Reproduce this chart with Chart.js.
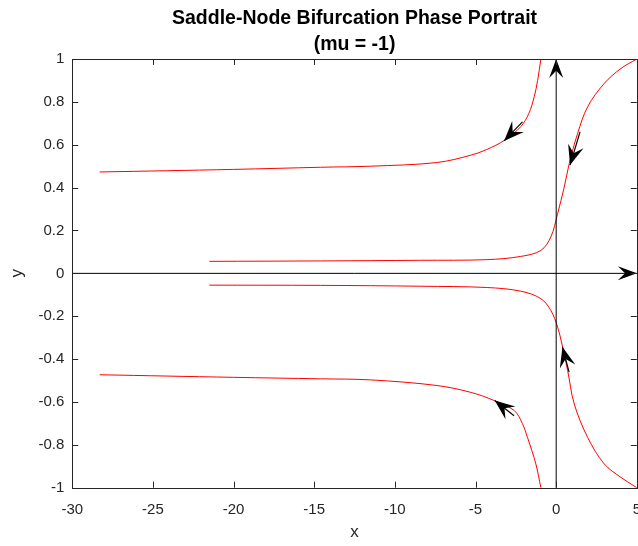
<!DOCTYPE html>
<html>
<head>
<meta charset="utf-8">
<title>Saddle-Node Bifurcation Phase Portrait</title>
<script src="https://cdn.jsdelivr.net/npm/chart.js@4.4.1/dist/chart.umd.min.js"></script>
<style>
  html, body { margin: 0; padding: 0; background: #fff; overflow: hidden; }
  #wrap { position: absolute; left: 0; top: 0; width: 654px; height: 546px; }
</style>
</head>
<body>
<div id="wrap"><canvas id="phaseChart" width="654" height="546"></canvas></div>
<script>
// trajectories (x, y pairs)
const upperLeftX = [-28.3, -20, -14.6, -11.5, -7.4, -5.3, -4.3, -3.2, -2.2, -1.7, -1.36, -1.15, -0.95];
const upperLeftY = [0.473, 0.485, 0.495, 0.500, 0.517, 0.551, 0.578, 0.621, 0.684, 0.745, 0.824, 0.900, 1.0];

const upperRightX = [-21.5, -14.6, -8.4, -4.3, -2.2, -0.95, -0.33, 0.09, 0.5, 0.81, 1.33, 1.95, 2.98, 4.02, 5.0];
const upperRightY = [0.056, 0.058, 0.061, 0.064, 0.079, 0.107, 0.170, 0.279, 0.403, 0.512, 0.653, 0.777, 0.886, 0.956, 1.0];

const lowerRightX = [-21.5, -14.6, -8.4, -4.3, -2.2, -0.95, -0.33, 0.09, 0.4, 0.71, 1.12, 1.95, 2.98, 4.02, 5.0];
const lowerRightY = [-0.055, -0.056, -0.060, -0.066, -0.083, -0.118, -0.173, -0.251, -0.344, -0.453, -0.609, -0.765, -0.889, -0.952, -1.0];

const lowerLeftX = [-28.3, -20, -14.6, -11.5, -7.4, -5.3, -3.85, -2.6, -2.1, -1.78, -1.26, -0.95];
const lowerLeftY = [-0.473, -0.485, -0.492, -0.497, -0.523, -0.555, -0.593, -0.640, -0.700, -0.765, -0.889, -1.0];

// direction arrows: tail -> tip
const arrowTailX = [-2.09, 1.48, 0.80, -2.61];
const arrowTailY = [0.707, 0.660, -0.461, -0.664];
const arrowTipX = [-3.23, 0.86, 0.39, -3.81];
const arrowTipY = [0.618, 0.505, -0.344, -0.593];

// axis lines through the origin
const axisLineX = [[-30, 5], [0, 0]];
const axisLineY = [[0, 0], [-1, 1]];

const xTicks = [-30, -25, -20, -15, -10, -5, 0, 5];
const yTicks = [-1, -0.8, -0.6, -0.4, -0.2, 0, 0.2, 0.4, 0.6, 0.8, 1];

const titleLines = ['Saddle-Node Bifurcation Phase Portrait', '(mu = -1)'];

function toPoints(xs, ys) {
    return xs.map((x, i) => ({ x: x, y: ys[i] }));
}

const axisColor = '#262626';
const fontFamily = 'Liberation Sans, Arial, sans-serif';

function drawHead(ctx, x0, y0, x1, y1, len, width) {
    const ang = Math.atan2(y1 - y0, x1 - x0);
    ctx.save();
    ctx.translate(x1, y1);
    ctx.rotate(ang);
    ctx.beginPath();
    ctx.moveTo(0, 0);
    ctx.lineTo(-len, -width / 2);
    ctx.lineTo(-len * 0.62, 0);
    ctx.lineTo(-len, width / 2);
    ctx.closePath();
    ctx.fillStyle = '#000';
    ctx.fill();
    ctx.restore();
}

const framePlugin = {
    id: 'frame',
    afterDatasetsDraw(chart) {
        const ctx = chart.ctx;
        const xs = chart.scales.x;
        const ys = chart.scales.y;
        const a = chart.chartArea;

        // axis lines with arrowheads
        ctx.save();
        ctx.strokeStyle = '#000';
        ctx.lineWidth = 1;
        for (let i = 0; i < axisLineX.length; i++) {
            const px0 = xs.getPixelForValue(axisLineX[i][0]);
            const py0 = ys.getPixelForValue(axisLineY[i][0]);
            const px1 = xs.getPixelForValue(axisLineX[i][1]);
            const py1 = ys.getPixelForValue(axisLineY[i][1]);
            ctx.beginPath();
            ctx.moveTo(px0, py0);
            ctx.lineTo(px1, py1);
            ctx.stroke();
            drawHead(ctx, px0, py0, px1, py1, 19, 14);
        }

        // trajectory arrows
        ctx.lineWidth = 1.2;
        for (let i = 0; i < arrowTipX.length; i++) {
            const tx = xs.getPixelForValue(arrowTailX[i]);
            const ty = ys.getPixelForValue(arrowTailY[i]);
            const hx = xs.getPixelForValue(arrowTipX[i]);
            const hy = ys.getPixelForValue(arrowTipY[i]);
            ctx.beginPath();
            ctx.moveTo(tx, ty);
            ctx.lineTo(hx, hy);
            ctx.stroke();
            drawHead(ctx, tx, ty, hx, hy, 20, 16);
        }

        // box and inward ticks
        ctx.strokeStyle = axisColor;
        ctx.lineWidth = 1;
        ctx.strokeRect(Math.round(a.left) + 0.5, Math.round(a.top) + 0.5,
            Math.round(a.right - a.left), Math.round(a.bottom - a.top));
        ctx.beginPath();
        xTicks.forEach(v => {
            const p = Math.round(xs.getPixelForValue(v)) + 0.5;
            ctx.moveTo(p, a.bottom);
            ctx.lineTo(p, a.bottom - 6);
            ctx.moveTo(p, a.top);
            ctx.lineTo(p, a.top + 6);
        });
        yTicks.forEach(v => {
            const p = Math.round(ys.getPixelForValue(v)) + 0.5;
            ctx.moveTo(a.left, p);
            ctx.lineTo(a.left + 6, p);
            ctx.moveTo(a.right, p);
            ctx.lineTo(a.right - 6, p);
        });
        ctx.stroke();

        // title, centred over the axes like the original
        const cx = (a.left + a.right) / 2;
        ctx.fillStyle = '#000';
        ctx.font = 'bold 19.5px ' + fontFamily;
        ctx.textAlign = 'center';
        ctx.textBaseline = 'alphabetic';
        ctx.fillText(titleLines[0], cx, 23.5);
        ctx.fillText(titleLines[1], cx, 50);
        ctx.restore();
    }
};

const lineStyle = {
    showLine: true,
    borderColor: '#ff0000',
    borderWidth: 1,
    pointRadius: 0,
    tension: 0.35,
    fill: false
};

const ctx = document.getElementById('phaseChart').getContext('2d');
new Chart(ctx, {
    type: 'scatter',
    data: {
        datasets: [
            Object.assign({ label: 'upper left', data: toPoints(upperLeftX, upperLeftY) }, lineStyle),
            Object.assign({ label: 'upper right', data: toPoints(upperRightX, upperRightY) }, lineStyle),
            Object.assign({ label: 'lower right', data: toPoints(lowerRightX, lowerRightY) }, lineStyle),
            Object.assign({ label: 'lower left', data: toPoints(lowerLeftX, lowerLeftY) }, lineStyle)
        ]
    },
    options: {
        responsive: false,
        animation: false,
        layout: { padding: { left: 7, right: 0, top: 59, bottom: 0 } },
        plugins: {
            legend: { display: false },
            tooltip: { enabled: false },
            title: { display: false }
        },
        scales: {
            x: {
                type: 'linear',
                min: -30,
                max: 5,
                afterBuildTicks: s => { s.ticks = xTicks.map(v => ({ value: v })); },
                grid: { display: false, drawTicks: false },
                border: { display: false },
                ticks: {
                    color: axisColor,
                    padding: 13,
                    maxRotation: 0,
                    font: { family: fontFamily, size: 15 }
                },
                title: {
                    display: true,
                    text: 'x',
                    color: axisColor,
                    padding: { top: 0, bottom: 14.1 },
                    font: { family: fontFamily, size: 17, lineHeight: 0.01 }
                }
            },
            y: {
                type: 'linear',
                min: -1,
                max: 1,
                afterBuildTicks: s => { s.ticks = yTicks.map(v => ({ value: v })); },
                grid: { display: false, drawTicks: false },
                border: { display: false },
                ticks: {
                    color: axisColor,
                    padding: 8,
                    font: { family: fontFamily, size: 15 },
                    callback: v => String(Number(v.toFixed(1)))
                },
                title: {
                    display: true,
                    text: 'y',
                    color: axisColor,
                    padding: { top: 0, bottom: 3 },
                    font: { family: fontFamily, size: 17 }
                }
            }
        }
    },
    plugins: [framePlugin]
});
</script>
</body>
</html>
